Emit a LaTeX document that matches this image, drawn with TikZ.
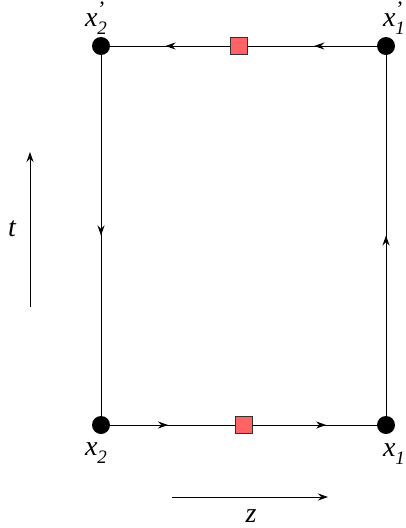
\documentclass[tikz,border=0pt]{standalone}
\usepackage{fontspec}
\setmainfont{Liberation Serif}[ItalicFont={Liberation Serif Italic}]
\usetikzlibrary{arrows.meta,decorations.markings}
\definecolor{sqred}{HTML}{FF6464}
\newcommand{\xsub}[1]{\itshape x\raisebox{-8pt}{\fontsize{19}{19}\selectfont #1}}
\newcommand{\xsubp}[1]{\itshape x\raisebox{-8pt}{\fontsize{19}{19}\selectfont\rlap{\raisebox{18pt}{\fontsize{22}{22}\selectfont\kern1pt\upshape'}}#1}}
\tikzset{
  x=1pt,y=-1pt,
  vdot/.style={circle,fill=black,inner sep=0pt,minimum size=18pt},
  sq/.style={rectangle,draw=black!80,fill=sqred,line width=0.9pt,inner sep=0pt,minimum size=17pt},
  edge/.style={line width=1pt,postaction={decorate},
    decoration={markings,mark=at position #1 with {\arrow{Stealth[length=10pt,width=7pt]}}}},
  edge/.default=0.5,
  axis/.style={line width=1pt,-{Stealth[length=10pt,width=7pt]}},
  lab/.style={font=\fontsize{28}{30}\selectfont,inner sep=0pt}
}
\begin{document}
\begin{tikzpicture}
\useasboundingbox (0,0) rectangle (406,528);
\node[vdot] (a) at (101,46) {};
\node[vdot] (b) at (386,46) {};
\node[vdot] (c) at (101,425) {};
\node[vdot] (d) at (386,425) {};
\node[sq] (s1) at (239,46) {};
\node[sq] (s2) at (244,425) {};
\draw[edge=0.52] (b.center) -- (s1);
\draw[edge=0.5] (s1) -- (a.center);
\draw[edge=0.5] (a.center) -- (c.center);
\draw[edge=0.5] (c.center) -- (s2);
\draw[edge=0.55] (s2) -- (d.center);
\draw[edge=0.5] (d.center) -- (b.center);
\node[lab] (la) at (96,18) {\xsubp{2}};
\node[lab] (lb) at (394,18) {\xsubp{1}};
\node[lab] (lc) at (96,453) {\xsub{2}};
\node[lab] (ld) at (394,454) {\xsub{1}};
\coordinate (t0) at (30,307);
\coordinate (t1) at (30,152);
\draw[axis] (t0) -- (t1);
\node[lab] (lt) at (12,229) {\itshape t};
\coordinate (z0) at (172,497);
\coordinate (z1) at (328,497);
\draw[axis] (z0) -- (z1);
\node[lab] (lz) at (251,516) {\itshape z};
\end{tikzpicture}
\end{document}
